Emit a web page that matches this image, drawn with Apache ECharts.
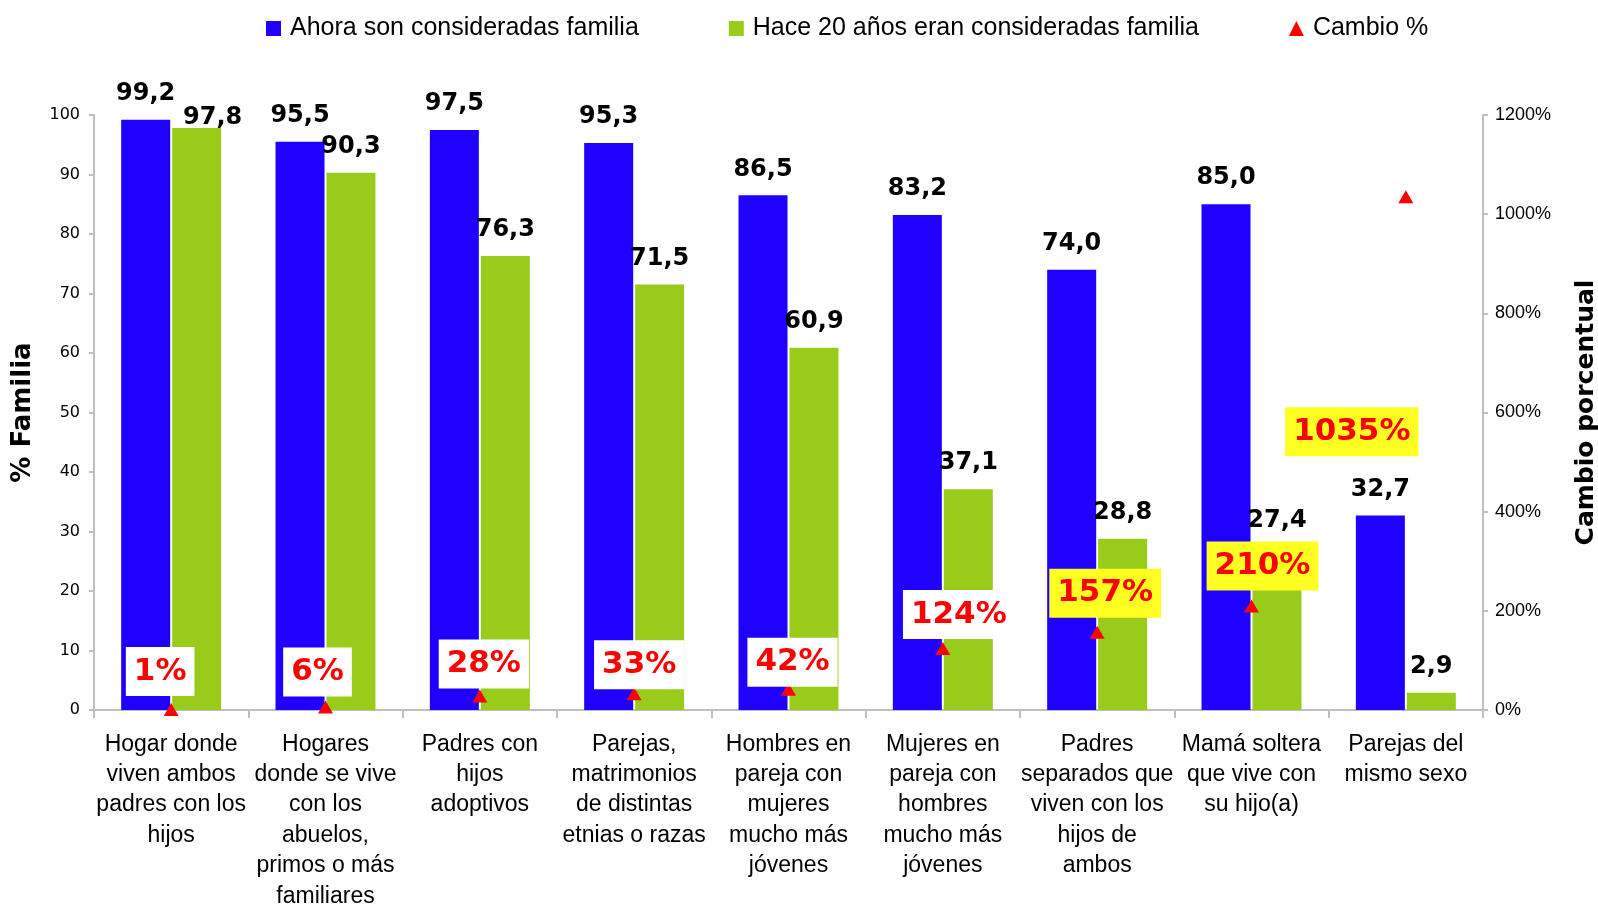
<!DOCTYPE html>
<html>
<head>
<meta charset="utf-8">
<script src="https://cdn.jsdelivr.net/npm/echarts@6/dist/echarts.min.js"></script>
<style>
html,body{margin:0;padding:0;background:#fff;}
#chart{width:1598px;height:904px;}
</style>
</head>
<body>
<div id="chart"></div>
<script>
const categories = [
  "Hogar donde\nviven ambos\npadres con los\nhijos",
  "Hogares\ndonde se vive\ncon los\nabuelos,\nprimos o más\nfamiliares",
  "Padres con\nhijos\nadoptivos",
  "Parejas,\nmatrimonios\nde distintas\netnias o razas",
  "Hombres en\npareja con\nmujeres\nmucho más\njóvenes",
  "Mujeres en\npareja con\nhombres\nmucho más\njóvenes",
  "Padres\nseparados que\nviven con los\nhijos de\nambos",
  "Mamá soltera\nque vive con\nsu hijo(a)",
  "Parejas del\nmismo sexo"
];
const seriesNames = ["Ahora son consideradas familia", "Hace 20 años eran consideradas familia", "Cambio %"];
const ahora = [99.2, 95.5, 97.5, 95.3, 86.5, 83.2, 74.0, 85.0, 32.7];
const hace20 = [97.8, 90.3, 76.3, 71.5, 60.9, 37.1, 28.8, 27.4, 2.9];
const cambio = [1, 6, 28, 33, 42, 124, 157, 210, 1035];
const leftTicks = [0, 100, 10];     // min, max, interval
const rightTicks = [0, 1200, 200];  // min, max, interval

// style / layout (not data)
const changeLabelOffsets = [[-11,-38],[-8,-35],[4,-32],[5,-29],[4,-27],[16,-34],[8,-39],[11,-40],[-54,235]];
const changeLabelBg = ['#fff','#fff','#fff','#fff','#fff','#fff','#FFFF22','#FFFF22','#FFFF22'];
const BLUE = '#1F00FF', GREEN = '#99CC1A', RED = '#FF0000';

const fmtDec = v => v.toFixed(1).replace('.', ',');
const barLabel = {
  show: true, position: 'top', distance: 14,
  fontFamily: 'DejaVu Sans', fontWeight: 'bold', fontSize: 24, color: '#000',
  formatter: p => fmtDec(p.value)
};

const chart = echarts.init(document.getElementById('chart'), null, {renderer: 'canvas'});
chart.setOption({
  animation: false,
  backgroundColor: '#fff',
  legend: {
    left: 261, top: 11, itemGap: 90, itemWidth: 15, itemHeight: 15,
    textStyle: {fontFamily: 'Liberation Sans', fontSize: 25, color: '#000', padding: [0,0,0,4]},
    data: [
      {name: seriesNames[0], icon: 'rect'},
      {name: seriesNames[1], icon: 'rect'},
      {name: seriesNames[2], icon: 'triangle'}
    ]
  },
  grid: {left: 94, right: 115, top: 115, bottom: 194, containLabel: false, outerBoundsMode: 'none'},
  xAxis: {
    type: 'category', data: categories,
    axisLine: {lineStyle: {color: '#BFBFBF', width: 2}},
    axisTick: {show: true, alignWithLabel: false, length: 8, lineStyle: {color: '#BFBFBF', width: 2}},
    axisLabel: {interval: 0, margin: 19, fontFamily: 'Liberation Sans', fontSize: 23, lineHeight: 30.4, color: '#000', align: 'center'}
  },
  yAxis: [
    {
      type: 'value', min: leftTicks[0], max: leftTicks[1], interval: leftTicks[2],
      name: '% Familia', nameLocation: 'middle', nameGap: 58, nameRotate: 90,
      nameTextStyle: {fontFamily: 'DejaVu Sans', fontWeight: 'bold', fontSize: 26, color: '#000'},
      axisLine: {show: true, lineStyle: {color: '#BFBFBF', width: 2}},
      axisTick: {show: true, length: 5, lineStyle: {color: '#BFBFBF', width: 2}},
      axisLabel: {margin: 14, fontFamily: 'DejaVu Sans', fontSize: 16, color: '#000'},
      splitLine: {show: false}
    },
    {
      type: 'value', min: rightTicks[0], max: rightTicks[1], interval: rightTicks[2],
      position: 'right',
      name: 'Cambio porcentual', nameLocation: 'middle', nameGap: 91, nameRotate: 90,
      nameTextStyle: {fontFamily: 'DejaVu Sans', fontWeight: 'bold', fontSize: 25, color: '#000'},
      axisLine: {show: true, lineStyle: {color: '#BFBFBF', width: 2}},
      axisTick: {show: true, length: 5, lineStyle: {color: '#BFBFBF', width: 2}},
      axisLabel: {margin: 12, fontFamily: 'Liberation Sans', fontSize: 18, color: '#000', formatter: v => v + '%'},
      splitLine: {show: false}
    }
  ],
  series: [
    {
      name: seriesNames[0], type: 'bar', yAxisIndex: 0,
      barWidth: 49, barGap: '4%',
      itemStyle: {color: BLUE},
      label: barLabel,
      data: ahora,
      z: 2
    },
    {
      name: seriesNames[1], type: 'bar', yAxisIndex: 0,
      barWidth: 49, barGap: '4%',
      itemStyle: {color: GREEN},
      label: barLabel,
      data: hace20.map((v, i) => i === 0 ? {value: v, label: {offset: [16, 16]}} : v),
      z: 2
    },
    {
      name: seriesNames[2], type: 'scatter', yAxisIndex: 1,
      symbol: 'triangle', symbolSize: [15, 13],
      itemStyle: {color: RED, opacity: 1},
      z: 5,
      data: cambio.map((v, i) => ({
        value: v,
        label: {
          show: true, position: 'inside', offset: changeLabelOffsets[i],
          formatter: p => Math.round(p.value) + '%',
          fontFamily: 'DejaVu Sans', fontWeight: 'bold', fontSize: 31, color: RED,
          backgroundColor: changeLabelBg[i], padding: [10, 8, 8, 8]
        }
      }))
    }
  ]
});
</script>
</body>
</html>
